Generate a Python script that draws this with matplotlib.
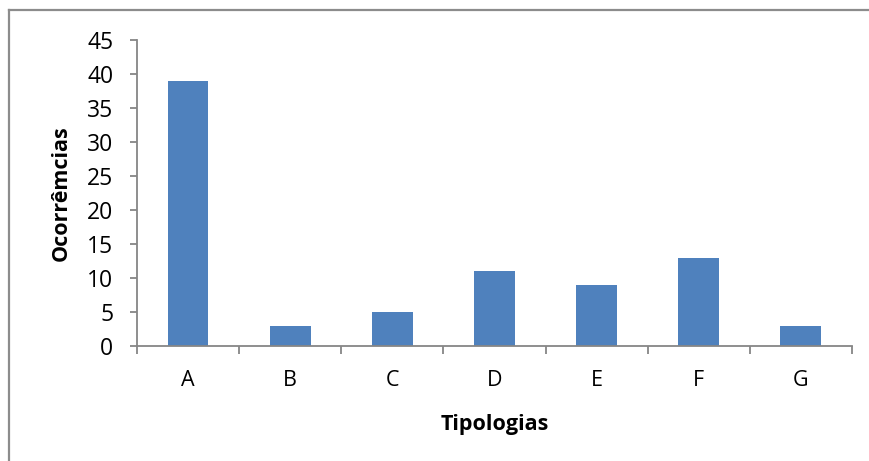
import matplotlib
matplotlib.use("Agg")
import matplotlib.pyplot as plt
from matplotlib.lines import Line2D
from matplotlib.ticker import FixedLocator, NullFormatter

categories = ["A", "B", "C", "D", "E", "F", "G"]
values = [39, 3, 5, 11, 9, 13, 3]
y_ticks = [0, 5, 10, 15, 20, 25, 30, 35, 40, 45]

plt.rcParams["font.family"] = ["Open Sans", "DejaVu Sans"]

W, H = 870, 461
fig = plt.figure(figsize=(W / 100, H / 100), dpi=100)
fig.patch.set_facecolor("white")

# chart-area frame (top and left edges)
fig.add_artist(Line2D([9.5 / W, 9.5 / W], [0, 1 - 10.5 / H], transform=fig.transFigure,
                      color="#8c8c8c", lw=1.6))
fig.add_artist(Line2D([9.5 / W, 1], [1 - 10.5 / H, 1 - 10.5 / H], transform=fig.transFigure,
                      color="#8c8c8c", lw=1.6))

ax = fig.add_axes([137 / W, 1 - 346 / H, (852 - 137) / W, (346 - 40) / H])
x = list(range(len(categories)))
ax.bar(x, values, width=0.4, color="#4F81BD")

ax.set_xlim(-0.5, len(categories) - 0.5)
ax.set_ylim(0, 45)
ax.set_yticks(y_ticks)
ax.set_xticks(x)
ax.set_xticklabels(categories)
ax.xaxis.set_minor_locator(FixedLocator([i - 0.5 for i in range(len(categories) + 1)]))
ax.xaxis.set_minor_formatter(NullFormatter())

for side in ("top", "right"):
    ax.spines[side].set_visible(False)
for side in ("left", "bottom"):
    ax.spines[side].set_color("#868686")
    ax.spines[side].set_linewidth(1.3)

ax.tick_params(axis="y", direction="out", length=5, width=1.3, color="#868686",
               labelsize=16.5, pad=12)
ax.tick_params(axis="x", which="major", length=0, labelsize=15.5, pad=17)
ax.tick_params(axis="x", which="minor", direction="out", length=6, width=1.3, color="#868686")

ax.set_ylabel("Ocorrêmcias", fontsize=15.5, fontweight="bold")
ax.set_xlabel("Tipologias", fontsize=15.5, fontweight="bold")
ax.yaxis.set_label_coords(-0.091, 0.5)
ax.xaxis.set_label_coords(0.5, -0.221)

fig.savefig("out.png", dpi=100, facecolor="white")
